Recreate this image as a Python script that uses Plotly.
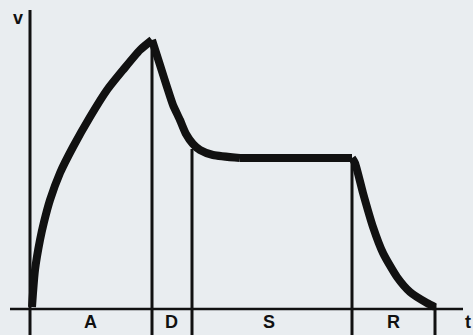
import plotly.graph_objects as go

# ADSR envelope: time (t) and level (v) in drawing units
attack_t = [1, 2, 4, 9, 13, 19, 29, 42, 59, 76, 92, 109, 121]
attack_v = [2, 16, 39, 69, 87, 109, 136, 162, 192, 219, 239, 259, 269]

decay_t = [121, 129, 136, 142, 149, 155, 162, 169, 182, 209]
decay_v = [269, 244, 222, 204, 189, 175, 165, 159, 154, 151]

sustain_t = [209, 321]
sustain_v = [151, 151]

release_t = [321, 324, 332, 342, 352, 366, 379, 396, 404]
release_v = [151, 146, 116, 82, 56, 32, 17, 6, 2]

# phase boundaries and where each marker line starts
phase_ends = [121, 161, 321, 404]
phase_tops = [269, 160, 151, 5]
phase_labels = ["A", "D", "S", "R"]
phase_centers = [59, 140, 238, 362]

INK = "#111111"
BG = "#e9edf0"
BOTTOM = -26

fig = go.Figure()

# axes drawn as plain lines
fig.add_trace(go.Scatter(x=[-1, -1], y=[BOTTOM, 299], mode="lines",
                         line=dict(color=INK, width=3), hoverinfo="skip"))
fig.add_trace(go.Scatter(x=[-21, 432], y=[0, 0], mode="lines",
                         line=dict(color=INK, width=2.5), hoverinfo="skip"))

# phase divider lines
for t, top in zip(phase_ends, phase_tops):
    fig.add_trace(go.Scatter(x=[t, t], y=[BOTTOM, top], mode="lines",
                             line=dict(color=INK, width=3), hoverinfo="skip"))

# envelope curve
for xs, ys, shape in [(attack_t, attack_v, "spline"),
                      (decay_t, decay_v, "spline"),
                      (sustain_t, sustain_v, "linear"),
                      (release_t, release_v, "spline")]:
    fig.add_trace(go.Scatter(x=xs, y=ys, mode="lines",
                             line=dict(color=INK, width=8, shape=shape, smoothing=0.6),
                             hoverinfo="skip"))

font = dict(family="Liberation Sans, Arial, sans-serif", size=18, color=INK)
annotations = [dict(x=c, y=-13, text=f"<b>{lab}</b>", showarrow=False, font=font)
               for c, lab in zip(phase_centers, phase_labels)]
annotations.append(dict(x=-13, y=291, text="<b>v</b>", showarrow=False, font=font))
annotations.append(dict(x=437, y=-13, text="<b>t</b>", showarrow=False, font=font))

fig.update_layout(
    width=473, height=335,
    margin=dict(l=0, r=0, t=0, b=0),
    paper_bgcolor=BG, plot_bgcolor=BG,
    showlegend=False,
    annotations=annotations,
    xaxis=dict(range=[-31, 442], visible=False, fixedrange=True),
    yaxis=dict(range=[BOTTOM, 309], visible=False, fixedrange=True),
)

fig.write_html("out.html")
